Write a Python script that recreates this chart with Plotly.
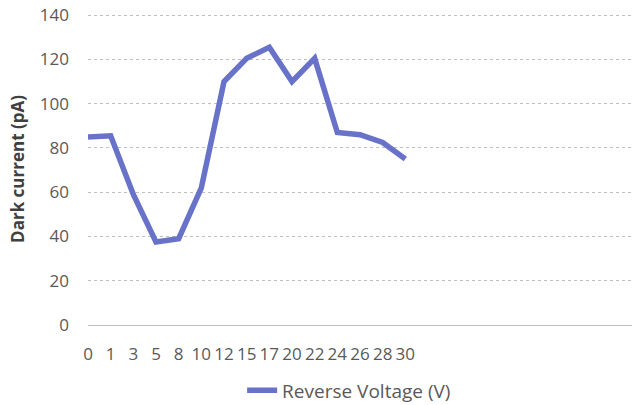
import plotly.graph_objects as go

voltages = ["0", "1", "3", "5", "8", "10", "12", "15", "17", "20", "22", "24", "26", "28", "30"]
dark_current = [85, 85.5, 59, 37.5, 39, 62, 110, 120.5, 125.5, 110, 120.5, 87, 86, 82.5, 75]
series_name = "Reverse Voltage (V)"
y_ticks = [0, 20, 40, 60, 80, 100, 120, 140]

fig = go.Figure()
fig.add_trace(go.Scatter(
    x=voltages, y=dark_current, mode="lines", name=series_name,
    line=dict(color="#6872C8", width=5.5),
))

font_family = "Open Sans, Liberation Sans, sans-serif"
fig.update_layout(
    width=633, height=405,
    margin=dict(l=88, r=1, t=13, b=80, autoexpand=False),
    paper_bgcolor="white", plot_bgcolor="white",
    font=dict(family=font_family, size=17, color="#595959"),
    showlegend=True,
    legend=dict(orientation="h", x=0.48, xanchor="center", y=-0.21, yanchor="middle",
                font=dict(size=19, color="#595959")),
    xaxis=dict(type="category", range=[0, 24], showgrid=False, automargin=False,
               showline=True, linecolor="#BFBFBF", linewidth=1,
               ticks="", ticklabelstandoff=14, tickfont=dict(size=17, color="#595959")),
    yaxis=dict(range=[0, 141], tickvals=y_ticks, showgrid=True, automargin=False,
               gridcolor="#BFBFBF", griddash="dot", gridwidth=1,
               zeroline=False, showline=False, ticks="", ticklabelstandoff=18,
               tickfont=dict(size=17, color="#595959"),
               title=dict(text="<b>Dark current (pA)</b>", standoff=10,
                          font=dict(size=17, color="#404040"))),
)
fig.write_html("out.html", config={"displayModeBar": False},
               post_script="document.body.style.margin='0';")
